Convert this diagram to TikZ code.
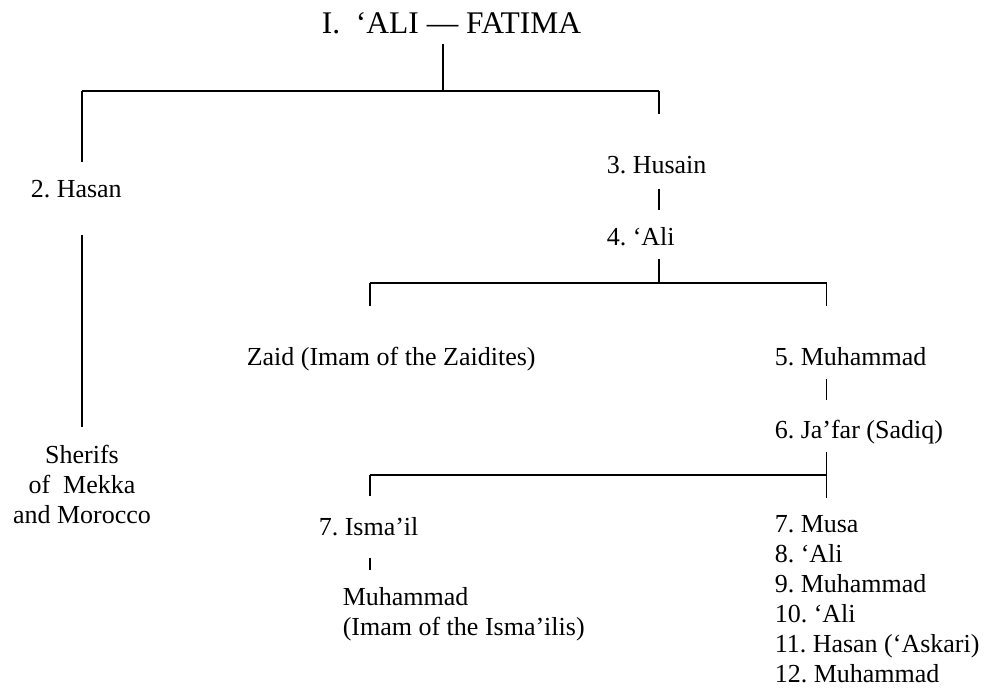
\documentclass[tikz,border=0pt]{standalone}
\usepackage{fontspec}
\setmainfont{Liberation Serif}
\usepackage{tikz}
\frenchspacing

\begin{document}
\begin{tikzpicture}[x=1pt,y=-1pt,line width=1.5pt,
  font=\fontsize{26}{30}\selectfont,
  imam/.style={inner sep=0pt,text height=17pt,text depth=0pt,anchor=base west},
  block/.style={inner sep=0pt,align=left,anchor=north west}]
\useasboundingbox (0,0) rectangle (987,691);
\node[inner sep=0pt,text depth=0pt,anchor=base,font=\fontsize{31.5}{36}\selectfont] (title) at (451.5,33) {I.\ \ `ALI --- FATIMA};
\node[imam] (hasan) at (30,197) {2. Hasan};
\node[block,align=center,anchor=north] (sherifs) at (82,444) {Sherifs\\of\ \ Mekka\\and Morocco};
\node[imam] (husain) at (606,173) {3. Husain};
\node[imam] (ali) at (606,245) {4. `Ali};
\node[imam] (zaid) at (246,365) {Zaid (Imam of the Zaidites)};
\node[imam] (muhfive) at (774,365) {5. Muhammad};
\node[imam] (jafar) at (774,438) {6. Ja'far (Sadiq)};
\node[imam] (ismail) at (318,535) {7. Isma'il};
\node[block] (ismaili) at (342,587) {Muhammad\\(Imam of the Isma'ilis)};
\node[block] (musa) at (774,515) {7. Musa\\8. `Ali\\9. Muhammad\\10. `Ali\\11. Hasan (`Askari)\\12. Muhammad};
\coordinate (fork1) at (443,91);
\coordinate (fork1l) at (82,91);
\coordinate (fork1r) at (659,91);
\coordinate (fork2) at (659,283);
\coordinate (fork2l) at (370,283);
\coordinate (fork2r) at (826.5,283);
\coordinate (fork3) at (826.5,475);
\coordinate (fork3l) at (370,475);
% ali -- fatima
\draw ([yshift=-10pt]title.south -| fork1) -- (fork1);
\draw (fork1l) -- (fork1r);
\draw (fork1l) -- ([yshift=17pt]hasan.north -| fork1l);
\draw (fork1r) -- ([yshift=41pt]husain.north -| fork1r);
\draw ([yshift=-37pt]hasan.south -| fork1l) -- ([yshift=17pt]sherifs.north -| fork1l);
% husain line
\draw ([yshift=-15pt]husain.south -| fork2) -- ([yshift=17pt]ali.north -| fork2);
\draw ([yshift=-13pt]ali.south -| fork2) -- (fork2);
\draw (fork2l) -- (fork2r);
\draw (fork2l) -- ([yshift=41pt]zaid.north -| fork2l);
\draw (fork2r) -- ([yshift=41pt]muhfive.north -| fork2r);
\draw ([yshift=-13pt]muhfive.south -| fork2r) -- ([yshift=20pt]jafar.north -| fork2r);
% ja'far
\draw ([yshift=-13pt]jafar.south -| fork3) -- (fork3) -- ([yshift=17pt]musa.north -| fork3);
\draw (fork3l) -- (fork3);
\draw (fork3l) -- ([yshift=21pt]ismail.north -| fork3l);
\draw ([yshift=-22pt]ismail.south -| fork3l) -- ([yshift=17pt]ismaili.north -| fork3l);
\end{tikzpicture}
\end{document}
